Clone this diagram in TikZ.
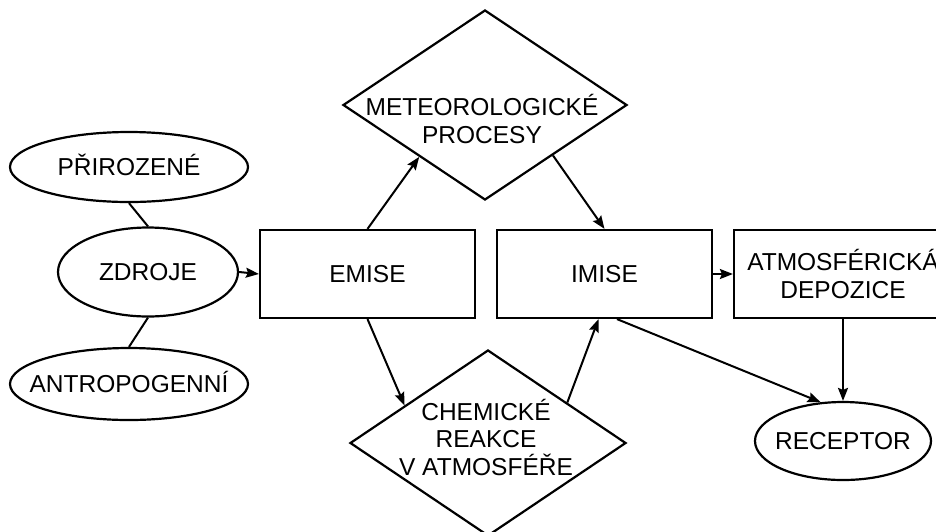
\documentclass[tikz,border=0pt]{standalone}
\usepackage{fontspec}
\setmainfont{Liberation Sans}
\usetikzlibrary{shapes.geometric,arrows.meta,calc}
\begin{document}
\begin{tikzpicture}[x=1pt,y=-1pt,
  every node/.style={font=\fontsize{24.5}{27.5}\selectfont, inner sep=0pt},
  box/.style={draw, line width=2.2pt, rectangle, minimum height=88pt},
  oval/.style={draw, line width=2.2pt, ellipse},
  dia/.style={draw, line width=2.2pt, diamond},
  one/.style={text height=17.5pt, text depth=0pt},
  txt/.style={align=center},
  arr/.style={line width=2pt, -{Stealth[length=13pt,width=10pt,inset=2pt]}},
  con/.style={line width=2pt}]
\useasboundingbox (0,0) rectangle (936,531);
\clip (0,0) rectangle (936,531);

% ellipses
\node[oval, one, minimum width=238pt, minimum height=70pt] (prir) at (129,167) {\makebox[0pt]{PŘIROZENÉ}};
\node[oval, one, minimum width=180pt, minimum height=89pt] (zdr) at (148,272) {\makebox[0pt]{ZDROJE}};
\node[oval, one, minimum width=238pt, minimum height=72pt] (ant) at (129,384) {\makebox[0pt]{ANTROPOGENNÍ}};
\node[oval, one, minimum width=176pt, minimum height=78pt] (rec) at (843,441) {\makebox[0pt]{RECEPTOR}};

% boxes
\node[box, one, minimum width=215pt] (emi) at (367.5,274) {EMISE};
\node[box, one, minimum width=215pt] (imi) at (604.5,274) {IMISE};
\node[box, txt, minimum width=218pt] (atm) at (843,274) {ATMOSFÉRICKÁ\\DEPOZICE};

% diamonds
\node[dia, minimum width=284pt, minimum height=190pt] (met) at (485,105) {};
\node[txt] (mett) at (482,119) {METEOROLOGICKÉ\\PROCESY};
\node[dia, minimum width=276pt, minimum height=186pt] (chem) at (488,443) {};
\node[txt] (chemt) at (486,437) {CHEMICKÉ\\REAKCE\\V ATMOSFÉŘE};

% connector points on diamond borders
\coordinate (metin) at ($(met.west)!0.54!(met.south)$);
\coordinate (metout) at ($(met.south)!0.475!(met.east)$);
\coordinate (chemin) at ($(chem.west)!0.4!(chem.north)$);
\coordinate (chemout) at ($(chem.north)!0.57!(chem.east)$);
\coordinate (imiin) at ($(imi.south)+(-6,0)$);
\coordinate (imiout) at ($(imi.south)+(12.5,0)$);

% connectors
\draw[con] (prir.south) -- (zdr.north);
\draw[con] (zdr.south) -- (ant.north);
\draw[arr] (zdr.east) -- (emi.west);
\draw[arr] (emi.north) -- (metin);
\draw[arr] (metout) -- (imi.north);
\draw[arr] (emi.south) -- (chemin);
\draw[arr] (chemout) -- (imiin);
\draw[arr] (imiout) -- (rec.120);
\draw[arr] (imi.east) -- (atm.west);
\draw[arr] (atm.south) -- (rec.north);
\end{tikzpicture}
\end{document}
